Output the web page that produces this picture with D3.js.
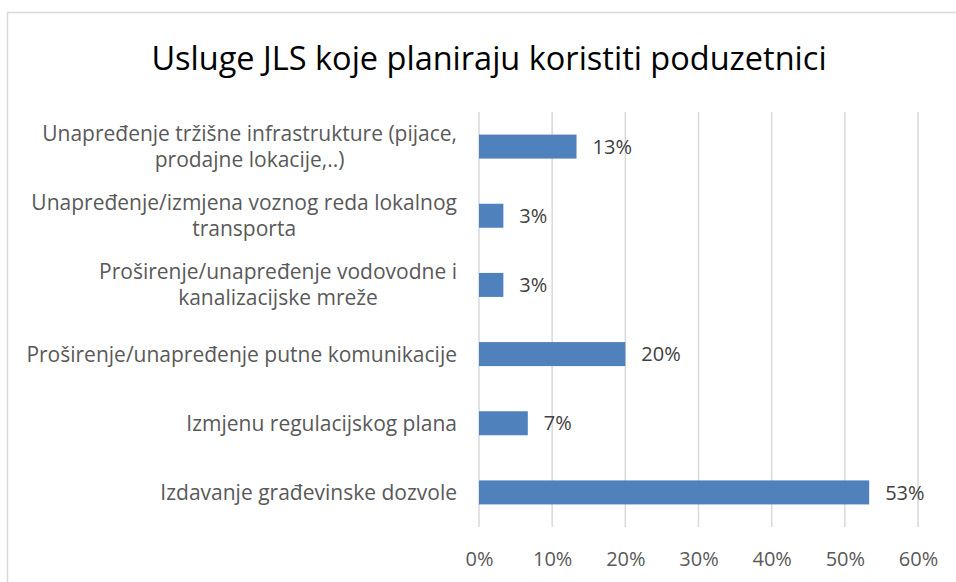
<!DOCTYPE html>
<html lang="hr">
<head>
<meta charset="UTF-8"/>
<title>Usluge JLS koje planiraju koristiti poduzetnici</title>
<script src="https://d3js.org/d3.v7.min.js"></script>
<style>
    body { margin: 0; background: #fff; }
    svg text { font-family: "Open Sans", sans-serif; }
</style>
</head>
<body>
<div id="chart"></div>
<script>
    // Categories, top to bottom ("\n" marks a line break in the label)
    var categories = [
        "Unapređenje tržišne infrastrukture (pijace,\nprodajne lokacije,..)",
        "Unapređenje/izmjena voznog reda lokalnog\ntransporta",
        "Proširenje/unapređenje vodovodne i\nkanalizacijske mreže",
        "Proširenje/unapređenje putne komunikacije",
        "Izmjenu regulacijskog plana",
        "Izdavanje građevinske dozvole"
    ];
    // share of respondents
    var values = [0.1333, 0.0333, 0.0333, 0.2, 0.0667, 0.5333];
    var xTicks = [0, 0.1, 0.2, 0.3, 0.4, 0.5, 0.6];

    var width = 956;
    var height = 582;
    var plotLeft = 479, plotRight = 918, plotTop = 112, plotBottom = 527;

    var svg = d3.select("#chart")
        .append("svg")
        .attr("width", width)
        .attr("height", height);

    // chart frame (runs off the right and bottom edge)
    svg.append("rect")
        .attr("x", 7.5)
        .attr("y", 12.5)
        .attr("width", 980)
        .attr("height", 620)
        .attr("fill", "none")
        .attr("stroke", "#d9d9d9")
        .attr("stroke-width", 1.5);

    // title
    svg.append("text")
        .attr("x", 489)
        .attr("y", 70)
        .attr("text-anchor", "middle")
        .attr("font-size", "32.5px")
        .attr("fill", "#000")
        .text("Usluge JLS koje planiraju koristiti poduzetnici");

    var xScale = d3.scaleLinear()
        .domain([0, 0.6])
        .range([plotLeft, plotRight]);

    var yScale = d3.scaleBand()
        .domain(categories)
        .range([plotTop, plotBottom])
        .paddingInner(0.653)
        .paddingOuter(0.3265);

    // vertical gridlines
    svg.selectAll("line.grid")
        .data(xTicks)
        .enter()
        .append("line")
        .attr("class", "grid")
        .attr("x1", function(d) { return xScale(d); })
        .attr("x2", function(d) { return xScale(d); })
        .attr("y1", plotTop)
        .attr("y2", plotBottom)
        .attr("stroke", "#d9d9d9")
        .attr("stroke-width", 1.5);

    // x axis tick labels
    var xAxis = d3.axisBottom(xScale)
        .tickValues(xTicks)
        .tickSize(0)
        .tickPadding(0)
        .tickFormat(d3.format(".0%"));
    var gx = svg.append("g")
        .attr("transform", "translate(0," + 566 + ")")
        .call(xAxis);
    gx.select(".domain").remove();
    gx.selectAll("text")
        .attr("y", 0)
        .attr("dy", 0)
        .attr("font-family", "Open Sans, sans-serif")
        .attr("font-size", "20px")
        .attr("fill", "#595959");

    // bars
    svg.selectAll("rect.bar")
        .data(values)
        .enter()
        .append("rect")
        .attr("class", "bar")
        .attr("x", xScale(0))
        .attr("y", function(d, i) { return yScale(categories[i]); })
        .attr("width", function(d) { return xScale(d) - xScale(0); })
        .attr("height", yScale.bandwidth())
        .attr("fill", "#4f81bd");

    // value labels
    svg.selectAll("text.value")
        .data(values)
        .enter()
        .append("text")
        .attr("class", "value")
        .attr("x", function(d) { return xScale(d) + 16; })
        .attr("y", function(d, i) { return yScale(categories[i]) + yScale.bandwidth() / 2; })
        .attr("dy", "0.36em")
        .attr("font-size", "20px")
        .attr("fill", "#404040")
        .text(function(d) { return d3.format(".0%")(d); });

    // category labels, wrapped lines centred on the bar
    var lineHeight = 26;
    var labels = svg.selectAll("text.cat")
        .data(categories)
        .enter()
        .append("text")
        .attr("class", "cat")
        .attr("font-size", "21px")
        .attr("fill", "#595959")
        .attr("text-anchor", "middle");

    labels.each(function(c) {
        var lines = c.split("\n");
        var t = d3.select(this);
        var cy = yScale(c) + yScale.bandwidth() / 2;
        lines.forEach(function(line, j) {
            t.append("tspan")
                .attr("x", 0)
                .attr("y", cy + (j - (lines.length - 1) / 2) * lineHeight)
                .attr("dy", "0.36em")
                .text(line);
        });
        // block right aligned next to the axis, lines centred inside it
        var w = this.getBBox().width;
        t.selectAll("tspan").attr("x", 457 - w / 2);
    });
</script>
</body>
</html>
